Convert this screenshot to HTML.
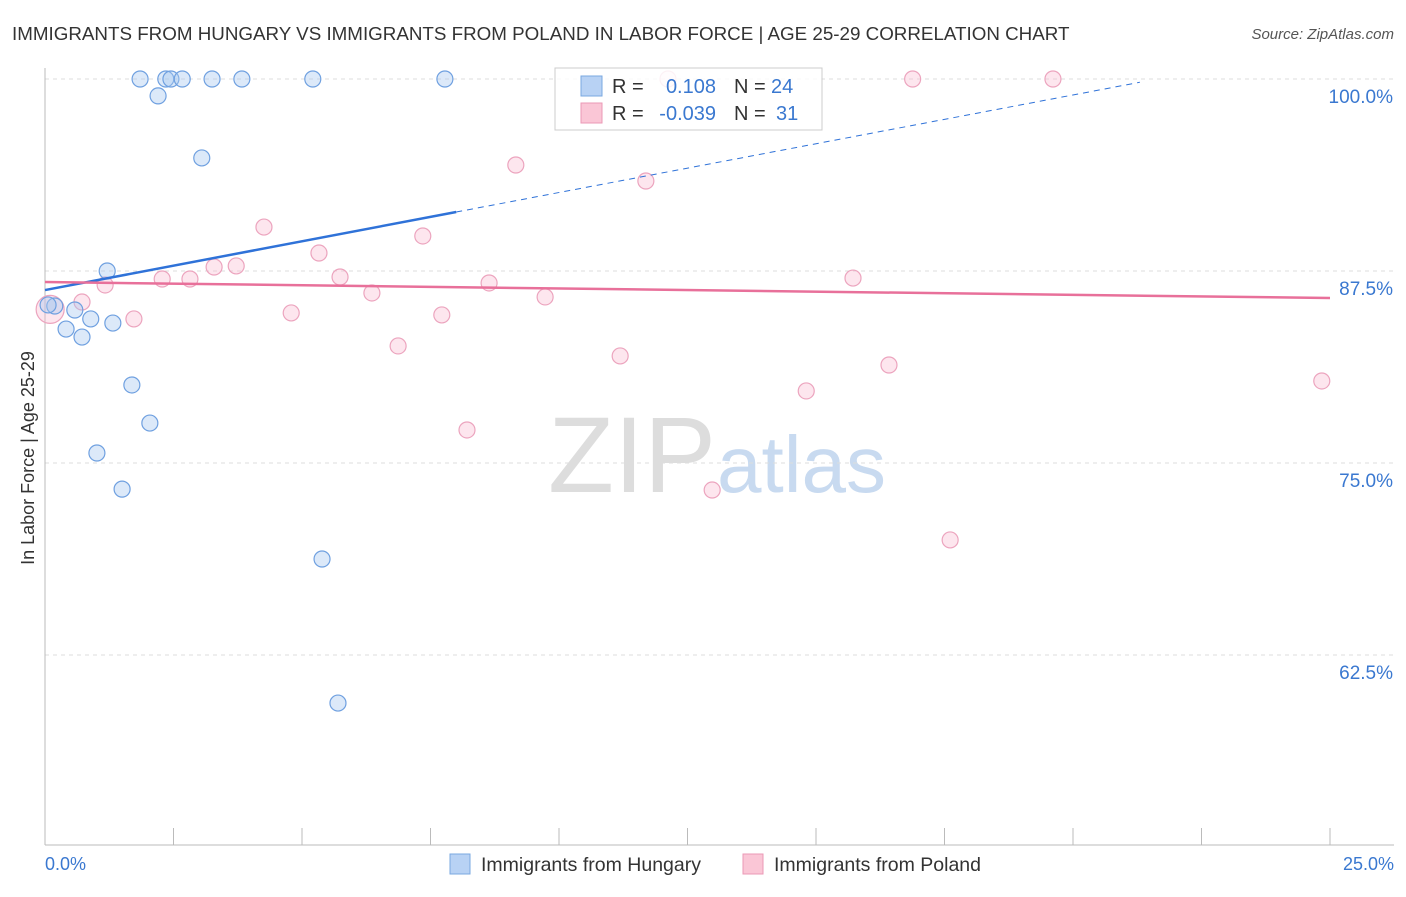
<!DOCTYPE html>
<html><head><meta charset="utf-8"><style>
body{margin:0;background:#fff;font-family:"Liberation Sans",sans-serif}
svg text{font-family:"Liberation Sans",sans-serif}
</style></head><body>
<svg id="c" width="1406" height="892" xmlns="http://www.w3.org/2000/svg">
<text x="12" y="40" font-size="18.8" fill="#333">IMMIGRANTS FROM HUNGARY VS IMMIGRANTS FROM POLAND IN LABOR FORCE | AGE 25-29 CORRELATION CHART</text>
<text x="1394" y="39" font-size="15" fill="#555" font-style="italic" text-anchor="end">Source: ZipAtlas.com</text>
<text x="34" y="458" font-size="18" fill="#333" text-anchor="middle" transform="rotate(-90 34 458)">In Labor Force | Age 25-29</text>
<text x="716" y="492" font-size="108" fill="#ddd" text-anchor="end" font-family="Liberation Serif">ZIP</text>
<text x="717" y="492" font-size="80" fill="#c8daf0">atlas</text>
<g id="grid"></g><g id="pts"></g><g id="lines"></g>
<g>
<rect x="555" y="68" width="267" height="62" fill="rgba(255,255,255,0.85)" stroke="#ccc"/>
<rect x="581" y="76" width="21" height="20" fill="#b8d2f4" stroke="#7aa8e0"/>
<rect x="581" y="103" width="21" height="20" fill="#fac6d6" stroke="#eb98b6"/>
<text x="612" y="93" font-size="20" fill="#333">R =</text><text x="716" y="93" font-size="20" fill="#3a78d0" text-anchor="end">0.108</text>
<text x="734" y="93" font-size="20" fill="#333">N =</text><text x="771" y="93" font-size="20" fill="#3a78d0">24</text>
<text x="612" y="120" font-size="20" fill="#333">R =</text><text x="716" y="120" font-size="20" fill="#3a78d0" text-anchor="end">-0.039</text>
<text x="734" y="120" font-size="20" fill="#333">N =</text><text x="776" y="120" font-size="20" fill="#3a78d0">31</text>
</g>
<g>
<rect x="450" y="854" width="20" height="20" fill="#b8d2f4" stroke="#7aa8e0"/>
<text x="481" y="871" font-size="19.5" fill="#333">Immigrants from Hungary</text>
<rect x="743" y="854" width="20" height="20" fill="#fac6d6" stroke="#eb98b6"/>
<text x="774" y="871" font-size="19.5" fill="#333">Immigrants from Poland</text>
</g>
</svg>
<script>
const yTicks=[100,87.5,75,62.5];
const yTickLabels=["100.0%","87.5%","75.0%","62.5%"];
const hungaryX=[1.85,2.35,2.45,2.67,3.25,3.83,5.21,7.78,2.20,3.05,1.21,0.19,0.58,0.89,1.32,0.41,0.72,1.69,2.04,1.01,1.50,5.39,5.70,0.06];
const hungaryY=[100,100,100,100,100,100,100,100,98.9,94.86,87.5,85.22,84.96,84.38,84.11,83.72,83.2,80.08,77.6,75.65,73.3,68.75,59.37,85.29];
const polandX=[12.12,16.88,19.61,9.16,11.69,4.26,7.35,5.33,3.72,3.29,2.28,2.82,5.74,15.72,8.64,1.17,0.72,6.36,9.73,4.79,7.72,1.73,6.87,11.19,16.42,14.81,24.84,8.21,12.98,17.61,0.1];
const polandY=[100,100,100,94.4,93.36,90.36,89.78,88.67,87.83,87.76,86.98,86.98,87.11,87.04,86.72,86.59,85.48,86.07,85.81,84.77,84.64,84.38,82.62,81.97,81.38,79.69,80.34,77.15,73.24,69.99,85];
const hungaryTrend=[86.26,0.635], polandTrend=[86.78,-0.0416];
const X=v=>45+v/25*1285, Y=v=>79+(100-v)*15.36;
const NS="http://www.w3.org/2000/svg";
function mk(t,a,p){const e=document.createElementNS(NS,t);for(const k in a)e.setAttribute(k,a[k]);const par=document.getElementById(p);par.appendChild(e);return e;}
yTicks.forEach((t,i)=>{
const l=mk('line',{x1:45,x2:1394,y1:Y(t),y2:Y(t),stroke:'#ddd','stroke-dasharray':'4,4'},'grid');


const tx=mk('text',{x:1393,y:Y(t)+24,'font-size':19,fill:'#3a78d0','text-anchor':'end'},'grid');tx.textContent=yTickLabels[i];


});
mk('line',{x1:45,x2:45,y1:68,y2:845,stroke:'#bbb'},'grid');
mk('line',{x1:45,x2:1394,y1:845,y2:845,stroke:'#bbb'},'grid');
for(let i=0;i<=10;i++){const t=mk('line',{x1:X(i*2.5),x2:X(i*2.5),y1:828,y2:845,stroke:'#bbb'},'grid');

}
let a=mk('text',{x:45,y:870,'font-size':18,fill:'#3a78d0'},'grid');a.textContent='0.0%';


a=mk('text',{x:1394,y:870,'font-size':18,fill:'#3a78d0','text-anchor':'end'},'grid');a.textContent='25.0%';


polandX.forEach((x,i)=>{const c=mk('circle',{cx:X(x),cy:Y(polandY[i]),r:i==30?14:8,fill:'rgba(248,184,206,0.35)',stroke:'#eca4be','stroke-width':1.2},'pts');

});
hungaryX.forEach((x,i)=>{const c=mk('circle',{cx:X(x),cy:Y(hungaryY[i]),r:8,fill:'rgba(168,200,240,0.4)',stroke:'#6fa0e0','stroke-width':1.2},'pts');

});
const hy=x=>hungaryTrend[0]+hungaryTrend[1]*x, py=x=>polandTrend[0]+polandTrend[1]*x;
let l=mk('line',{x1:X(0),y1:Y(hy(0)),x2:X(8),y2:Y(hy(8)),stroke:'#2f72d8','stroke-width':2.5},'lines');


l=mk('line',{x1:X(8),y1:Y(hy(8)),x2:X(21.3),y2:Y(hy(21.3)),stroke:'#2f72d8','stroke-width':1,'stroke-dasharray':'6,5'},'lines');


l=mk('line',{x1:X(0),y1:Y(py(0)),x2:X(25),y2:Y(py(25)),stroke:'#e8709a','stroke-width':2.5},'lines');


</script>
</body></html>
